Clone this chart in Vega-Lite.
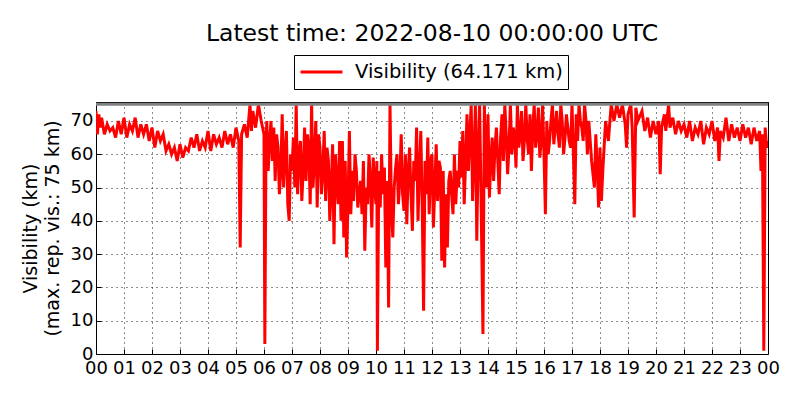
{
  "$schema": "https://vega.github.io/schema/vega-lite/v6.json",
  "autosize": "none",
  "width": 672,
  "height": 252,
  "padding": {"left": 96, "top": 102, "right": 32, "bottom": 46},
  "background": "white",
  "config": {
    "font": "DejaVu Sans",
    "view": {"stroke": "black", "strokeWidth": 1},
    "axis": {"domain": false, "grid": true, "gridColor": "black", "gridDash": [1, 4], "gridOpacity": 0.9,
             "tickColor": "black", "tickSize": -5, "labelColor": "black", "labelFontSize": 18, "titleColor": "black",
             "titleFontWeight": "normal", "labelOverlap": false}
  },
  "title": {"text": "Latest time: 2022-08-10 00:00:00 UTC", "fontSize": 23.5, "fontWeight": "normal", "anchor": "middle", "offset": 9, "color": "black"},
  "data": {"values": [
    {"h": 0.0, "v": 73}, {"h": 0.05, "v": 66}, {"h": 0.1, "v": 72}, {"h": 0.15, "v": 68}, {"h": 0.2, "v": 71}, {"h": 0.3, "v": 66}, {"h": 0.4, "v": 69}, {"h": 0.5, "v": 67}, {"h": 0.6, "v": 68}, {"h": 0.7, "v": 65}, {"h": 0.8, "v": 70}, {"h": 0.9, "v": 66},
    {"h": 1.0, "v": 71}, {"h": 1.1, "v": 65}, {"h": 1.2, "v": 69}, {"h": 1.3, "v": 67}, {"h": 1.4, "v": 71}, {"h": 1.5, "v": 65}, {"h": 1.6, "v": 69}, {"h": 1.7, "v": 66}, {"h": 1.8, "v": 69}, {"h": 1.9, "v": 64},
    {"h": 2.0, "v": 68}, {"h": 2.1, "v": 62}, {"h": 2.2, "v": 67}, {"h": 2.3, "v": 64}, {"h": 2.4, "v": 66}, {"h": 2.5, "v": 61}, {"h": 2.6, "v": 63}, {"h": 2.7, "v": 60}, {"h": 2.8, "v": 62}, {"h": 2.9, "v": 58},
    {"h": 3.0, "v": 63}, {"h": 3.1, "v": 59}, {"h": 3.2, "v": 62}, {"h": 3.3, "v": 61}, {"h": 3.4, "v": 65}, {"h": 3.5, "v": 62}, {"h": 3.6, "v": 66}, {"h": 3.7, "v": 61}, {"h": 3.8, "v": 64}, {"h": 3.9, "v": 62},
    {"h": 4.0, "v": 67}, {"h": 4.1, "v": 61}, {"h": 4.2, "v": 66}, {"h": 4.3, "v": 63}, {"h": 4.4, "v": 65}, {"h": 4.5, "v": 62}, {"h": 4.6, "v": 67}, {"h": 4.7, "v": 63}, {"h": 4.8, "v": 66}, {"h": 4.9, "v": 62},
    {"h": 5.0, "v": 68}, {"h": 5.1, "v": 64}, {"h": 5.15, "v": 32}, {"h": 5.2, "v": 66}, {"h": 5.3, "v": 69}, {"h": 5.4, "v": 65}, {"h": 5.5, "v": 75}, {"h": 5.55, "v": 67}, {"h": 5.6, "v": 73}, {"h": 5.7, "v": 68}, {"h": 5.8, "v": 75}, {"h": 5.9, "v": 70},
    {"h": 6.0, "v": 66}, {"h": 6.03, "v": 3}, {"h": 6.07, "v": 62}, {"h": 6.1, "v": 70}, {"h": 6.15, "v": 55}, {"h": 6.2, "v": 64}, {"h": 6.3, "v": 58}, {"h": 6.35, "v": 68}, {"h": 6.4, "v": 52}, {"h": 6.5, "v": 62}, {"h": 6.55, "v": 48}, {"h": 6.65, "v": 72}, {"h": 6.7, "v": 50}, {"h": 6.8, "v": 67}, {"h": 6.85, "v": 45}, {"h": 6.9, "v": 40}, {"h": 6.95, "v": 60},
    {"h": 7.0, "v": 55}, {"h": 7.05, "v": 65}, {"h": 7.1, "v": 50}, {"h": 7.15, "v": 75}, {"h": 7.2, "v": 48}, {"h": 7.3, "v": 64}, {"h": 7.35, "v": 46}, {"h": 7.45, "v": 68}, {"h": 7.5, "v": 52}, {"h": 7.6, "v": 62}, {"h": 7.65, "v": 45}, {"h": 7.7, "v": 75}, {"h": 7.75, "v": 50}, {"h": 7.85, "v": 70}, {"h": 7.9, "v": 44},
    {"h": 8.0, "v": 62}, {"h": 8.05, "v": 48}, {"h": 8.15, "v": 67}, {"h": 8.2, "v": 46}, {"h": 8.3, "v": 58}, {"h": 8.35, "v": 40}, {"h": 8.45, "v": 63}, {"h": 8.5, "v": 33}, {"h": 8.55, "v": 60}, {"h": 8.65, "v": 45}, {"h": 8.7, "v": 64}, {"h": 8.75, "v": 40}, {"h": 8.8, "v": 64}, {"h": 8.85, "v": 35}, {"h": 8.9, "v": 58}, {"h": 8.95, "v": 29}, {"h": 9.0, "v": 45},
    {"h": 9.05, "v": 67}, {"h": 9.1, "v": 42}, {"h": 9.15, "v": 55}, {"h": 9.2, "v": 46}, {"h": 9.3, "v": 55}, {"h": 9.35, "v": 44}, {"h": 9.45, "v": 52}, {"h": 9.5, "v": 42}, {"h": 9.55, "v": 58}, {"h": 9.6, "v": 31}, {"h": 9.65, "v": 50}, {"h": 9.7, "v": 45}, {"h": 9.75, "v": 60}, {"h": 9.85, "v": 38}, {"h": 9.9, "v": 59},
    {"h": 10.0, "v": 45}, {"h": 10.03, "v": 58}, {"h": 10.05, "v": 1}, {"h": 10.1, "v": 55}, {"h": 10.15, "v": 44}, {"h": 10.2, "v": 60}, {"h": 10.25, "v": 48}, {"h": 10.3, "v": 56}, {"h": 10.35, "v": 26}, {"h": 10.4, "v": 52}, {"h": 10.45, "v": 14}, {"h": 10.5, "v": 75}, {"h": 10.55, "v": 44}, {"h": 10.6, "v": 35}, {"h": 10.7, "v": 56}, {"h": 10.8, "v": 45}, {"h": 10.9, "v": 66},
    {"h": 11.0, "v": 43}, {"h": 11.05, "v": 60}, {"h": 11.1, "v": 39}, {"h": 11.2, "v": 62}, {"h": 11.3, "v": 37}, {"h": 11.35, "v": 58}, {"h": 11.45, "v": 68}, {"h": 11.5, "v": 40}, {"h": 11.6, "v": 67}, {"h": 11.65, "v": 45}, {"h": 11.7, "v": 13}, {"h": 11.75, "v": 58}, {"h": 11.85, "v": 65}, {"h": 11.9, "v": 42},
    {"h": 12.0, "v": 60}, {"h": 12.05, "v": 38}, {"h": 12.15, "v": 63}, {"h": 12.2, "v": 46}, {"h": 12.3, "v": 56}, {"h": 12.35, "v": 28}, {"h": 12.4, "v": 55}, {"h": 12.45, "v": 26}, {"h": 12.55, "v": 32}, {"h": 12.6, "v": 52}, {"h": 12.7, "v": 48}, {"h": 12.8, "v": 60}, {"h": 12.85, "v": 45}, {"h": 12.9, "v": 55},
    {"h": 13.0, "v": 64}, {"h": 13.05, "v": 53}, {"h": 13.1, "v": 67}, {"h": 13.15, "v": 45}, {"h": 13.25, "v": 72}, {"h": 13.3, "v": 55}, {"h": 13.4, "v": 75}, {"h": 13.45, "v": 46}, {"h": 13.55, "v": 75}, {"h": 13.6, "v": 34}, {"h": 13.7, "v": 75}, {"h": 13.75, "v": 48}, {"h": 13.82, "v": 6}, {"h": 13.87, "v": 75}, {"h": 13.95, "v": 50},
    {"h": 14.0, "v": 72}, {"h": 14.05, "v": 47}, {"h": 14.15, "v": 65}, {"h": 14.2, "v": 52}, {"h": 14.3, "v": 68}, {"h": 14.4, "v": 48}, {"h": 14.5, "v": 72}, {"h": 14.55, "v": 58}, {"h": 14.6, "v": 75}, {"h": 14.7, "v": 54}, {"h": 14.8, "v": 75}, {"h": 14.85, "v": 60}, {"h": 14.9, "v": 68},
    {"h": 15.0, "v": 56}, {"h": 15.05, "v": 75}, {"h": 15.1, "v": 62}, {"h": 15.2, "v": 73}, {"h": 15.25, "v": 58}, {"h": 15.35, "v": 75}, {"h": 15.4, "v": 65}, {"h": 15.5, "v": 72}, {"h": 15.55, "v": 55}, {"h": 15.65, "v": 75}, {"h": 15.7, "v": 62}, {"h": 15.8, "v": 74}, {"h": 15.85, "v": 59}, {"h": 15.95, "v": 75},
    {"h": 16.0, "v": 60}, {"h": 16.05, "v": 42}, {"h": 16.1, "v": 70}, {"h": 16.2, "v": 64}, {"h": 16.3, "v": 75}, {"h": 16.35, "v": 63}, {"h": 16.45, "v": 73}, {"h": 16.5, "v": 66}, {"h": 16.6, "v": 75}, {"h": 16.7, "v": 60}, {"h": 16.8, "v": 72}, {"h": 16.9, "v": 64},
    {"h": 17.0, "v": 75}, {"h": 17.05, "v": 60}, {"h": 17.1, "v": 45}, {"h": 17.15, "v": 72}, {"h": 17.25, "v": 75}, {"h": 17.35, "v": 68}, {"h": 17.45, "v": 75}, {"h": 17.55, "v": 60}, {"h": 17.6, "v": 70}, {"h": 17.7, "v": 58}, {"h": 17.8, "v": 50}, {"h": 17.85, "v": 66}, {"h": 17.9, "v": 56}, {"h": 17.95, "v": 44},
    {"h": 18.0, "v": 62}, {"h": 18.05, "v": 46}, {"h": 18.1, "v": 55}, {"h": 18.2, "v": 70}, {"h": 18.3, "v": 64}, {"h": 18.4, "v": 75}, {"h": 18.5, "v": 70}, {"h": 18.6, "v": 75}, {"h": 18.7, "v": 71}, {"h": 18.8, "v": 75}, {"h": 18.9, "v": 69}, {"h": 18.95, "v": 62},
    {"h": 19.0, "v": 72}, {"h": 19.1, "v": 75}, {"h": 19.15, "v": 68}, {"h": 19.22, "v": 41}, {"h": 19.28, "v": 74}, {"h": 19.35, "v": 70}, {"h": 19.5, "v": 73}, {"h": 19.6, "v": 67}, {"h": 19.7, "v": 71}, {"h": 19.8, "v": 65}, {"h": 19.9, "v": 70},
    {"h": 20.0, "v": 66}, {"h": 20.1, "v": 70}, {"h": 20.15, "v": 54}, {"h": 20.2, "v": 68}, {"h": 20.3, "v": 72}, {"h": 20.35, "v": 67}, {"h": 20.45, "v": 75}, {"h": 20.5, "v": 68}, {"h": 20.6, "v": 71}, {"h": 20.7, "v": 66}, {"h": 20.8, "v": 70}, {"h": 20.9, "v": 67},
    {"h": 21.0, "v": 69}, {"h": 21.1, "v": 65}, {"h": 21.2, "v": 70}, {"h": 21.3, "v": 64}, {"h": 21.4, "v": 68}, {"h": 21.5, "v": 66}, {"h": 21.6, "v": 70}, {"h": 21.7, "v": 63}, {"h": 21.8, "v": 68}, {"h": 21.9, "v": 66},
    {"h": 22.0, "v": 70}, {"h": 22.1, "v": 64}, {"h": 22.2, "v": 68}, {"h": 22.25, "v": 58}, {"h": 22.3, "v": 67}, {"h": 22.4, "v": 65}, {"h": 22.5, "v": 71}, {"h": 22.6, "v": 64}, {"h": 22.7, "v": 69}, {"h": 22.8, "v": 65}, {"h": 22.9, "v": 68},
    {"h": 23.0, "v": 64}, {"h": 23.1, "v": 69}, {"h": 23.2, "v": 65}, {"h": 23.3, "v": 68}, {"h": 23.4, "v": 63}, {"h": 23.5, "v": 68}, {"h": 23.6, "v": 64}, {"h": 23.7, "v": 67}, {"h": 23.75, "v": 55}, {"h": 23.8, "v": 66}, {"h": 23.85, "v": 1}, {"h": 23.9, "v": 68}, {"h": 23.95, "v": 62}, {"h": 24.0, "v": 64},
    {"h": 6.12, "v": 63}, {"h": 6.25, "v": 70}, {"h": 6.45, "v": 66}, {"h": 6.6, "v": 55}, {"h": 6.75, "v": 60}, {"h": 7.25, "v": 60}, {"h": 7.4, "v": 55}, {"h": 7.55, "v": 66}, {"h": 7.8, "v": 58}, {"h": 7.95, "v": 66},
    {"h": 8.1, "v": 55}, {"h": 8.25, "v": 62}, {"h": 8.4, "v": 50}, {"h": 8.6, "v": 52}, {"h": 9.25, "v": 60}, {"h": 9.4, "v": 48}, {"h": 9.8, "v": 52}, {"h": 9.95, "v": 50}, {"h": 10.65, "v": 50}, {"h": 10.75, "v": 60},
    {"h": 10.85, "v": 52}, {"h": 10.95, "v": 48}, {"h": 11.15, "v": 55}, {"h": 11.25, "v": 48}, {"h": 11.4, "v": 52}, {"h": 11.55, "v": 55}, {"h": 11.8, "v": 48}, {"h": 11.95, "v": 58}, {"h": 12.1, "v": 50}, {"h": 12.25, "v": 58},
    {"h": 12.5, "v": 48}, {"h": 12.65, "v": 55}, {"h": 12.75, "v": 42}, {"h": 12.95, "v": 50}, {"h": 13.2, "v": 58}, {"h": 13.35, "v": 66}, {"h": 13.5, "v": 60}, {"h": 13.65, "v": 62}, {"h": 13.9, "v": 62}, {"h": 14.1, "v": 58},
    {"h": 14.25, "v": 62}, {"h": 14.35, "v": 58}, {"h": 14.45, "v": 65}, {"h": 14.65, "v": 66}, {"h": 14.75, "v": 62}, {"h": 14.95, "v": 66}, {"h": 15.15, "v": 66}, {"h": 15.3, "v": 64}, {"h": 15.45, "v": 60}, {"h": 15.6, "v": 68},
    {"h": 15.75, "v": 66}, {"h": 15.9, "v": 64}, {"h": 16.15, "v": 60}, {"h": 16.25, "v": 70}, {"h": 16.4, "v": 68}, {"h": 16.55, "v": 62}, {"h": 16.65, "v": 70}, {"h": 16.75, "v": 65}, {"h": 16.85, "v": 68}, {"h": 16.95, "v": 62},
    {"h": 17.2, "v": 64}, {"h": 17.3, "v": 70}, {"h": 17.4, "v": 64}, {"h": 17.5, "v": 70}, {"h": 17.65, "v": 64}
  ]},
  "layer": [
    {
      "transform": [{"calculate": "'Visibility (64.171 km)'", "as": "series"}],
      "mark": {"type": "line", "strokeWidth": 3, "clip": true},
      "encoding": {
        "x": {"field": "h", "type": "quantitative", "scale": {"domain": [0, 24], "nice": false},
              "axis": {"values": [0,1,2,3,4,5,6,7,8,9,10,11,12,13,14,15,16,17,18,19,20,21,22,23,24], "title": null,
                       "labelExpr": "(datum.value % 24) < 10 ? '0' + (datum.value % 24) : '' + (datum.value % 24)", "labelPadding": 10, "labelFlush": false}},
        "y": {"field": "v", "type": "quantitative", "scale": {"domain": [0, 75.7], "nice": false},
              "axis": {"values": [0,10,20,30,40,50,60,70], "title": ["Visibility (km)", "(max. rep. vis.: 75 km)"], "titleFontSize": 19, "titlePadding": 8, "titleLineHeight": 22, "labelPadding": 8}},
        "color": {"field": "series", "type": "nominal", "scale": {"range": ["red"]},
                  "legend": {"title": null, "orient": "none", "legendX": 198, "legendY": -47, "labelFontSize": 19.5, "labelColor": "black", "labelLimit": 400,
                             "symbolType": "stroke", "symbolSize": 1764, "symbolStrokeWidth": 3, "strokeColor": "black", "fillColor": "white",
                             "padding": 5, "clipHeight": 24, "cornerRadius": 0, "labelOffset": 11}}
      }
    },
    {
      "data": {"values": [{"max": 75}]},
      "mark": {"type": "rule", "color": "#808080", "strokeWidth": 3},
      "encoding": {"y": {"field": "max", "type": "quantitative", "scale": {"domain": [0, 75.7], "nice": false},
                         "axis": {"values": [0,10,20,30,40,50,60,70], "title": ["Visibility (km)", "(max. rep. vis.: 75 km)"], "titleFontSize": 19, "titlePadding": 8, "titleLineHeight": 22, "labelPadding": 8}}}
    }
  ]
}
